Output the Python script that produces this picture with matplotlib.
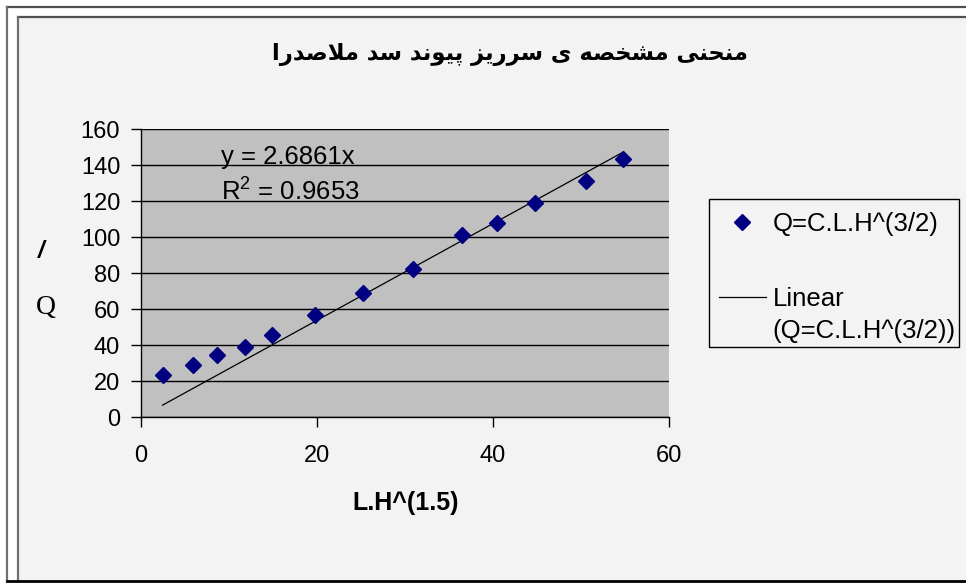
import matplotlib
matplotlib.use('Agg')
import matplotlib.pyplot as plt
from matplotlib import font_manager
from matplotlib.font_manager import FontProperties
from matplotlib.ft2font import FT2Font
from matplotlib.lines import Line2D
from matplotlib.patches import Rectangle
from matplotlib.legend_handler import HandlerLine2D
import numpy as np

# ---------------- data ----------------
title_text = "منحنی مشخصه ی سرریز پیوند سد ملاصدرا"
x_label = "L.H^(1.5)"
series_label = "Q=C.L.H^(3/2)"
trend_label = "Linear\n(Q=C.L.H^(3/2))"
lh15 = [2.45, 5.9, 8.6, 11.8, 14.9, 19.8, 25.2, 30.9, 36.5, 40.5, 44.8, 50.6, 54.8]
q_vals = [23.2, 28.7, 34.3, 38.7, 45.4, 56.5, 69.1, 82.0, 100.9, 107.6, 118.7, 130.9, 143.2]
slope = 2.6861
r2 = 0.9653
x_ticks = [0, 20, 40, 60]
y_ticks = [0, 20, 40, 60, 80, 100, 120, 140, 160]

plt.rcParams['font.family'] = ['Liberation Sans', 'DejaVu Sans']
plt.rcParams['mathtext.default'] = 'regular'

# ---------- minimal Arabic/Persian shaping (logical -> visual) ----------
FORMS = {
    '\u0627': ('\uFE8D', '\uFE8E', None, None),
    '\u062F': ('\uFEA9', '\uFEAA', None, None),
    '\u0631': ('\uFEAD', '\uFEAE', None, None),
    '\u0632': ('\uFEAF', '\uFEB0', None, None),
    '\u0648': ('\uFEED', '\uFEEE', None, None),
    '\u0645': ('\uFEE1', '\uFEE2', '\uFEE3', '\uFEE4'),
    '\u0646': ('\uFEE5', '\uFEE6', '\uFEE7', '\uFEE8'),
    '\u062D': ('\uFEA1', '\uFEA2', '\uFEA3', '\uFEA4'),
    '\u062E': ('\uFEA5', '\uFEA6', '\uFEA7', '\uFEA8'),
    '\u0634': ('\uFEB5', '\uFEB6', '\uFEB7', '\uFEB8'),
    '\u0633': ('\uFEB1', '\uFEB2', '\uFEB3', '\uFEB4'),
    '\u0635': ('\uFEB9', '\uFEBA', '\uFEBB', '\uFEBC'),
    '\u0647': ('\uFEE9', '\uFEEA', '\uFEEB', '\uFEEC'),
    '\u0644': ('\uFEDD', '\uFEDE', '\uFEDF', '\uFEE0'),
    '\u06CC': ('\uFBFC', '\uFBFD', '\uFBFE', '\uFBFF'),
    '\u067E': ('\uFB56', '\uFB57', '\uFB58', '\uFB59'),
}
FALLBACK = {'\uFBFC': '\uFEEF', '\uFBFD': '\uFEF0', '\uFBFE': '\uFEF3', '\uFBFF': '\uFEF4'}


def shape_rtl(text, font_path):
    ft = FT2Font(font_path)

    def has(c):
        return ft.get_char_index(ord(c)) != 0

    def dual(c):
        return c in FORMS and FORMS[c][2] is not None

    out = []
    i, n = 0, len(text)
    while i < n:
        c = text[i]
        if c not in FORMS:
            out.append(c)
            i += 1
            continue
        prev = text[i - 1] if i > 0 else None
        jp = prev is not None and dual(prev)
        if c == '\u0644' and i + 1 < n and text[i + 1] == '\u0627':
            out.append('\uFEFC' if jp else '\uFEFB')
            i += 2
            continue
        nxt = text[i + 1] if i + 1 < n else None
        jn = dual(c) and nxt is not None and nxt in FORMS
        iso, fin, ini, med = FORMS[c]
        g = med if (jp and jn) else fin if jp else ini if jn else iso
        if not has(g) and g in FALLBACK:
            g = FALLBACK[g]
        out.append(g)
        i += 1
    return ''.join(reversed(out))


class ShiftedLineHandler(HandlerLine2D):
    """Legend line handle aligned with the first line of a two-line label."""

    def __init__(self, dy, **kw):
        super().__init__(**kw)
        self.dy = dy

    def create_artists(self, legend, orig_handle, xdescent, ydescent, width, height,
                       fontsize, trans):
        arts = super().create_artists(legend, orig_handle, xdescent, ydescent, width,
                                      height, fontsize, trans)
        for a in arts:
            if hasattr(a, 'set_ydata'):
                a.set_ydata(np.asarray(a.get_ydata(), dtype=float) + self.dy)
        return arts


W, H = 966, 583
fig = plt.figure(figsize=(W / 100, H / 100), dpi=100)
fig.patch.set_facecolor('white')


def fx(px):
    return px / W


def fy(py):
    return 1 - py / H


# frames
fig.add_artist(Rectangle((fx(18), fy(581)), fx(980) - fx(18), fy(17) - fy(581),
                         transform=fig.transFigure, facecolor='#F3F3F3',
                         edgecolor='none', zorder=-10))
for (xa, ya, xb, yb, col, lw) in [
        (7, 7, 980, 7, '#505050', 1.6), (7, 7, 7, 581, '#707070', 1.6),
        (18, 17, 980, 17, '#505050', 1.6), (18, 17, 18, 581, '#707070', 1.6),
        (7, 581, 980, 581, 'black', 2.0)]:
    fig.add_artist(Line2D([fx(xa), fx(xb)], [fy(ya), fy(yb)], transform=fig.transFigure,
                          color=col, lw=lw, zorder=-5))

# legend frame
fig.add_artist(Rectangle((fx(709), fy(347)), fx(959) - fx(709), fy(199) - fy(347),
                         transform=fig.transFigure, facecolor='#F3F3F3',
                         edgecolor='black', lw=1.0, zorder=-4))

# axes
ax = fig.add_axes([fx(141), fy(417), fx(669) - fx(141), fy(129) - fy(417)])
ax.set_facecolor('#C0C0C0')
ax.set_xlim(0, 60)
ax.set_ylim(0, 160)
ax.set_xticks(x_ticks)
ax.set_yticks(y_ticks)
ax.yaxis.grid(True, color='black', lw=1.0)
ax.set_axisbelow(True)
for s in ['top', 'right']:
    ax.spines[s].set_visible(False)
for s in ['left', 'bottom']:
    ax.spines[s].set_color('black')
    ax.spines[s].set_linewidth(1.0)
ax.tick_params(axis='both', direction='out', length=7, width=1, labelsize=17, color='black')
ax.tick_params(axis='x', pad=13)
ax.tick_params(axis='y', pad=8)

sc, = ax.plot(lh15, q_vals, linestyle='none', marker='D', markersize=8,
              color='#000080', zorder=3)
xs = np.array([min(lh15), max(lh15)])
tl, = ax.plot(xs, slope * xs, color='black', lw=0.9, zorder=2)

# equation
fig.text(fx(221), fy(157), f"y = {slope:.4f}x", fontsize=18.5, va='center', ha='left')
fig.text(fx(221), fy(192), f"R$^{{2}}$ = {r2:.4f}", fontsize=18.5, va='center', ha='left')

# labels
fig.text(fx(406), fy(503), x_label, fontsize=18, fontweight='bold', ha='center', va='center')
fig.text(fx(41), fy(252), '/', fontsize=17, fontweight='bold', fontstyle='italic',
         ha='center', va='center')
fig.text(fx(46), fy(308), 'Q', fontsize=20, family='Liberation Serif', ha='center', va='center')

# title
tpath = font_manager.findfont(FontProperties(family='DejaVu Sans', weight='bold'))
fig.text(fx(510), fy(54), shape_rtl(title_text, tpath), fontsize=16.3, fontweight='bold',
         family='DejaVu Sans', ha='center', va='center')

# legend (frame drawn separately above)
leg = ax.legend([sc, tl], [series_label, trend_label], loc='upper left',
                bbox_to_anchor=(fx(706), fy(199)), bbox_transform=fig.transFigure,
                fontsize=18.5, frameon=False, handlelength=1.83, handletextpad=0.27,
                borderpad=0.5, labelspacing=1.98, borderaxespad=0,
                handler_map={tl: ShiftedLineHandler(dy=13.5)})
for t in leg.get_texts():
    t.set_linespacing(1.45)

fig.savefig('out.png', dpi=100, facecolor=fig.get_facecolor())
